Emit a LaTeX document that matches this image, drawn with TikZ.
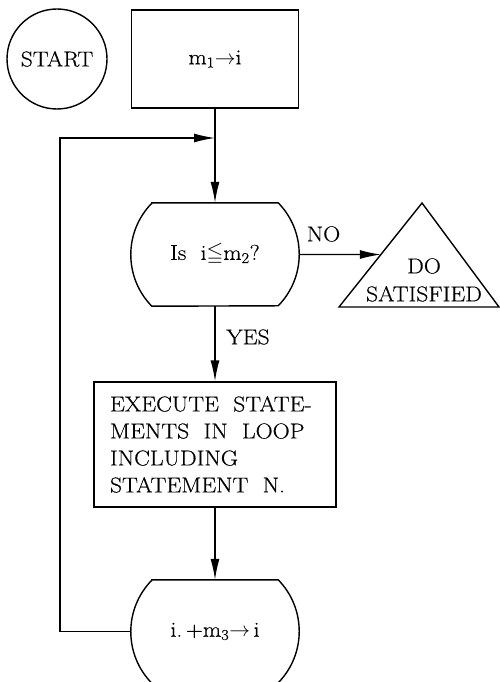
\documentclass[tikz,border=0pt]{standalone}
\usepackage{amssymb}
\usepackage{fontspec}
\setmainfont[FakeStretch=1.1, FakeBold=0.4]{Latin Modern Roman}
\usetikzlibrary{arrows.meta,calc}
\newcommand{\drumpath}[1]{%
  \draw[outline] ([xshift=21pt]#1.north west) -- ([xshift=-21pt]#1.north east)
    arc[start angle=44.4, end angle=-44.4, radius=73.6pt]
    -- ([xshift=21pt]#1.south west)
    arc[start angle=224.4, end angle=135.6, radius=73.6pt] -- cycle;}
\newcommand{\sub}[1]{\textsubscript{#1}}
\newcommand{\toarrow}{\ensuremath{\rightarrow}}
\begin{document}
\begin{tikzpicture}[x=1pt,y=1pt,
  font=\fontsize{21.5}{27}\selectfont,
  outline/.style={line width=1.4pt},
  box/.style={draw, outline, rectangle, inner sep=0pt},
  drum/.style={minimum width=168pt, minimum height=103pt, inner sep=0pt},
  flow/.style={outline, -{Latex[length=21pt,width=9pt]}},
  plain/.style={outline}]
\useasboundingbox (0,0) rectangle (500,-682);
\clip (0,0) rectangle (500,-682);
% nodes
\node[draw, outline, circle, minimum size=100pt, inner sep=0pt] (start) at (57,-59) {START};
\node[box, minimum width=167pt, minimum height=98pt] (init) at (215,-59) {m\sub{1}\toarrow i};
\coordinate (join) at (215,-138);
\coordinate (corner) at (60,-138);
\node[drum] (dec) at (215,-254.5) {Is\ \ i\ensuremath{\leqq}m\sub{2}?};
\drumpath{dec}
\coordinate (tA) at (422,-203);
\coordinate (tL) at (339,-307);
\coordinate (tR) at (499,-307);
\draw[outline, line join=miter] (tA) -- (tL) -- (tR) -- cycle;
\node[align=center, inner sep=0pt] (done) at (424,-280) {DO\\[1pt]SATISFIED};
\coordinate (hend) at (dec.east -| tR);
\coordinate (notip) at (intersection of tL--tA and dec.east--hend);
\node (no) at (323.5,-234) {NO};
\node (yes) at (248,-337) {YES};
\node[box, minimum width=242pt, minimum height=125pt, text width=210pt, inner xsep=16pt, align=left] (exec) at (215,-444.5)
  {EXECUTE\ \ STATE-\\MENTS\ \ IN\ \ LOOP\\INCLUDING\\STATEMENT\ \ N.};
\node[drum] (bot) at (215,-631.5) {i.\,+m\sub{3}\toarrow\,i};
\drumpath{bot}
% connectors
\draw[plain] (init.south) -- (join);
\draw[flow] (join) -- (dec.north);
\draw[flow] (dec.east) -- (notip);
\draw[flow] (dec.south) -- (exec.north);
\draw[flow] (exec.south) -- (bot.north);
\draw[flow] (bot.west) -| (corner) -- (join);
\end{tikzpicture}
\end{document}
